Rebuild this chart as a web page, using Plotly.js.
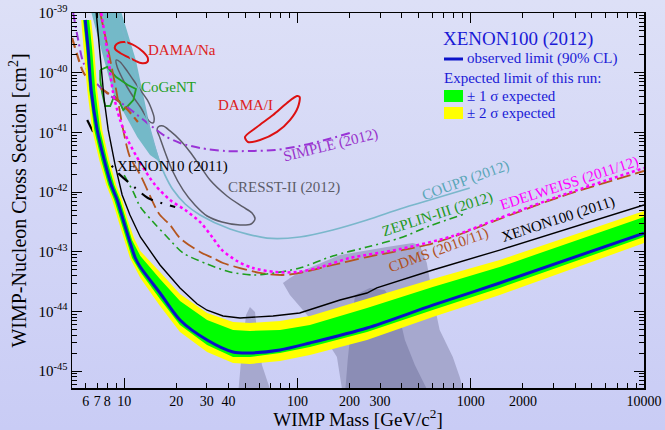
<!DOCTYPE html>
<html><head><meta charset="utf-8">
<script src="https://cdn.plot.ly/plotly-3.0.1.min.js"></script>
<style>
html,body{margin:0;padding:0;width:665px;height:430px;overflow:hidden;background:linear-gradient(#dde0f7,#c9ccf5);}
#chart{width:665px;height:430px;}
</style></head><body><div id="chart"></div>
<script>
// ---------- data (mass in GeV/c^2, cross-section in cm^2) ----------
const obsMass  = [5.96,6.20,6.45,6.99,7.67,8.42,9.11,9.87,10.7,11.6,12.4,16.1,21.0,30.1,42.5,53.2,79.3,118,252,604,1470,10000];
const obsSigma = [7.63e-40,2.40e-40,5.13e-41,1.10e-41,3.45e-42,1.31e-42,7.38e-43,3.41e-43,1.58e-43,7.87e-44,5.56e-44,2.04e-44,7.20e-45,3.33e-45,2.10e-45,2.02e-45,2.27e-45,2.97e-45,5.29e-45,1.28e-44,3.00e-44,2.06e-43];

const s2UpMass  = [6.45,6.72,6.99,7.47,8.20,8.99,9.74,10.5,11.4,12.4,16.1,21.0,30.1,42.5,53.2,79.3,118,252,604,1470,10000];
const s2UpSigma = [7.63e-40,2.40e-40,5.13e-41,1.10e-41,3.45e-42,1.31e-42,7.38e-43,3.41e-43,1.70e-43,1.03e-43,4.59e-44,1.96e-44,9.44e-45,6.67e-45,6.42e-45,6.93e-45,8.41e-45,1.62e-44,3.50e-44,7.29e-44,4.83e-43];
const s1UpMass  = [6.28,6.54,6.81,7.27,7.98,8.76,9.48,10.3,11.1,12.4,16.1,21.0,30.1,42.5,53.2,79.3,118,252,604,1470,10000];
const s1UpSigma = [7.63e-40,2.40e-40,5.13e-41,1.10e-41,3.45e-42,1.31e-42,7.38e-43,3.41e-43,1.58e-43,8.51e-44,3.50e-44,1.50e-44,7.20e-45,4.90e-45,4.72e-45,4.90e-45,5.94e-45,1.14e-44,2.57e-44,5.56e-44,3.83e-43];
const s1LoMass  = [5.80,6.04,6.28,6.72,7.37,8.09,8.76,9.48,10.3,11.1,12.4,16.1,21.0,30.1,42.5,53.2,79.3,118,252,604,1470,10000];
const s1LoSigma = [7.63e-40,2.40e-40,5.13e-41,1.10e-41,3.45e-42,1.31e-42,7.38e-43,3.41e-43,1.58e-43,7.87e-44,4.59e-44,1.62e-44,5.94e-45,2.75e-45,1.73e-45,1.73e-45,2.02e-45,2.54e-45,4.54e-45,1.06e-44,2.48e-44,1.77e-43];
const s2LoMass  = [5.65,5.88,6.12,6.54,7.18,7.88,8.53,9.23,10.0,10.8,12.4,16.1,21.0,30.1,42.5,53.2,79.3,118,252,604,1470,10000];
const s2LoSigma = [7.63e-40,2.40e-40,5.13e-41,1.10e-41,3.45e-42,1.31e-42,7.38e-43,3.41e-43,1.58e-43,7.87e-44,3.64e-44,1.24e-44,4.54e-45,2.10e-45,1.37e-45,1.32e-45,1.48e-45,1.87e-45,3.33e-45,8.09e-45,1.89e-44,1.40e-43];

const x11Mass  = [6.90,7.27,7.67,8.09,8.87,9.74,10.8,12.4,16.1,21.0,26.3,30.1,37.2,46.6,72.3,103,176,252,287,604,1470,10000];
const x11Sigma = [1.00e-39,1.63e-40,3.49e-41,1.10e-41,2.84e-42,8.94e-43,4.13e-43,1.77e-43,6.01e-44,2.48e-44,1.35e-44,1.05e-44,8.41e-45,7.80e-45,8.41e-45,9.44e-45,1.56e-44,2.04e-44,2.48e-44,4.96e-44,1.07e-43,6.08e-43];

const x10Mass  = [6.12,6.99,7.98,9.23,11.6,13.7,15.7,19.7];
const x10Sigma = [1.61e-41,7.46e-42,3.45e-42,2.09e-42,1.17e-42,7.96e-43,6.83e-43,5.63e-43];

const cdmsMass  = [7.27,8.09,8.99,9.87,10.8,12.4,15.1,16.1,18.4,21.0,27.4,32.6,37.2,46.6,60.8,82.5,103,160,252,355,558,788,1470,3258,10000];
const cdmsSigma = [1.00e-39,2.40e-40,5.13e-41,1.10e-41,3.87e-42,1.93e-42,5.63e-43,4.13e-43,2.81e-43,1.70e-43,9.92e-44,7.87e-44,6.49e-44,5.35e-44,4.42e-44,4.09e-44,4.42e-44,6.01e-44,8.18e-44,9.92e-44,1.30e-43,1.77e-43,3.54e-43,8.28e-43,2.26e-42];
const cdmsLowMass  = [5.01,5.36,5.80,6.37,7.57,9.11,10.5,12.0];
const cdmsLowSigma = [3.81e-40,1.98e-40,1.03e-40,7.26e-41,5.13e-41,3.49e-41,2.37e-41,1.49e-41];

const edwMass  = [7.37,7.98,8.64,9.48,10.5,12.4,15.1,18.4,22.5,27.4,32.2,36.7,44.8,55.4,74.2,99.4,130,201,390,788,1470,3258,10000];
const edwSigma = [1.00e-39,2.40e-40,4.57e-41,1.61e-41,7.46e-42,3.07e-42,1.31e-42,7.38e-43,5.01e-43,3.16e-43,1.77e-43,1.07e-43,7.02e-44,5.35e-44,4.59e-44,4.59e-44,5.35e-44,7.87e-44,1.11e-43,1.84e-43,3.68e-43,8.60e-43,2.53e-42];

const zepMass  = [10.0,11.3,12.4,14.7,17.7,21.9,30.1,40.8,55.4,66.7,103,160,252,390,580,924];
const zepSigma = [1.93e-42,1.00e-42,5.63e-43,3.16e-43,1.77e-43,9.55e-44,6.25e-44,4.59e-44,4.09e-44,4.25e-44,5.35e-44,8.51e-44,1.20e-43,1.70e-43,2.71e-43,4.30e-43];

const couppMass  = [9.23,11.4,13.6,14.5,15.7,17.2,19.2,22.5,27.4,40.8,66.7,103,160,252,390,508,987];
const couppSigma = [1.00e-39,1.11e-40,1.61e-41,8.37e-42,3.73e-42,1.93e-42,1.08e-42,6.32e-43,4.13e-43,2.41e-43,1.70e-43,1.77e-43,2.32e-43,3.41e-43,5.21e-43,6.57e-43,1.17e-42];

const simpleMass  = [5.08,5.43,5.80,6.54,7.77,10.4,14.1,17.2,21.0,27.4,38.2,53.2,74.2,103,144,201];
const simpleSigma = [1.00e-39,3.53e-40,1.51e-40,8.15e-41,4.75e-41,2.66e-41,1.33e-41,8.70e-42,6.65e-42,5.48e-42,4.88e-42,4.88e-42,5.07e-42,5.92e-42,7.46e-42,9.77e-42];

const cresstAMass  = [8.99,9.11,9.74,10.4,11.4,12.4,13.2,13.9,14.7,14.9,14.3,13.6,12.4,11.3,10.3,9.48,8.99];
const cresstASigma = [1.63e-40,1.25e-40,8.15e-41,5.76e-41,3.77e-41,2.66e-41,1.96e-41,1.55e-41,1.44e-41,1.74e-41,2.56e-41,3.49e-41,5.13e-41,7.55e-41,1.11e-40,1.51e-40,1.63e-40];
const cresstBMass  = [15.7,16.8,18.4,21.0,24.0,27.4,31.3,39.2,48.5,54.7,56.9,54.0,46.6,36.7,30.1,25.6,21.9,18.9,17.2,16.1,15.5,15.7];
const cresstBSigma = [1.23e-41,1.28e-41,1.06e-41,7.46e-42,4.70e-42,2.74e-42,1.59e-42,8.60e-43,5.63e-43,4.47e-43,3.54e-43,2.92e-43,2.81e-43,3.16e-43,3.98e-43,6.08e-43,1.08e-42,2.35e-42,4.70e-42,8.06e-42,1.10e-41,1.23e-41];

const damaNaMass  = [8.87,9.23,10.1,11.6,12.9,13.7,13.6,12.5,10.8,9.48,8.87,8.87];
const damaNaSigma = [2.80e-40,3.14e-40,3.27e-40,2.80e-40,2.22e-40,1.76e-40,1.51e-40,1.45e-40,1.76e-40,2.14e-40,2.49e-40,2.80e-40];
const damaIMass  = [49.8,58.4,72.3,87.0,99.4,103,100.7,90.5,76.2,60.8,51.8,49.8];
const damaISigma = [8.37e-42,1.23e-41,1.96e-41,3.11e-41,4.07e-41,3.92e-41,2.66e-41,1.61e-41,1.02e-41,7.46e-42,6.91e-42,8.37e-42];
const cogentMass  = [7.27,7.98,8.99,10.5,11.7,11.3,10.5,9.87,9.36,8.76,8.31,7.77,7.47,7.27,7.27];
const cogentSigma = [1.11e-40,1.25e-40,8.47e-41,6.22e-41,5.33e-41,3.49e-41,2.77e-41,2.37e-41,3.36e-41,4.07e-41,2.77e-41,2.77e-41,4.57e-41,7.55e-41,1.11e-40];

const tealMass  = [6.37,9.48,11.7,13.6,14.5,15.7,16.6,15.5,14.1,11.9,10.1,8.64,7.47,6.37];
const tealSigma = [1.2e-39,1.2e-39,1.60e-40,2.20e-41,8.37e-42,4.18e-42,2.53e-42,3.45e-42,4.18e-42,8.37e-42,1.96e-41,4.57e-41,2.14e-40,1.2e-39];

const grayAMass  = [45.4,47.9,50.5,53.2,56.9,59.2,62.4,71.3];
const grayASigma = [4e-46,2.27e-45,8.74e-45,1.19e-44,9.81e-45,3.33e-45,1.27e-45,4e-46];
const grayBMass  = [183,169,135,90.5,82.5,90.5,103,176,328,463,508,558,604,662,788,864,924];
const grayBSigma = [4e-46,1.73e-45,4.90e-45,1.89e-44,3.00e-44,3.64e-44,4.59e-44,8.84e-44,1.20e-43,1.40e-43,1.30e-43,6.49e-44,1.75e-44,4.90e-45,1.73e-45,8.0e-46,4e-46];
const grayCMass  = [188,195,206,215,262,319,380,417,476,580];
const grayCSigma = [4e-46,1.54e-45,7.20e-45,1.89e-44,2.48e-44,2.29e-44,1.06e-44,3.33e-45,1.27e-45,4e-46];

// ticks and tick labels
const xLabelVals = [6,7,8,10,20,30,40,100,200,300,1000,2000,10000];
const xLabelText = ['6','7','8','10','20','30','40','100','200','300','1000','2000','10000'];
const xMinorVals = [5,9,50,60,70,80,90,400,500,600,700,800,900,3000,4000,5000,6000,7000,8000,9000];
const xMajorVals = [10,100,1000,10000];
const yMajorVals = [1e-45,1e-44,1e-43,1e-42,1e-41,1e-40,1e-39];
const yMajorText = ['10<sup>-45</sup>','10<sup>-44</sup>','10<sup>-43</sup>','10<sup>-42</sup>','10<sup>-41</sup>','10<sup>-40</sup>','10<sup>-39</sup>'];
const yMinorMult = [2,3,4,5,6,7,8,9];

// ---------- build ----------
const yLo = -39 - 375/59.7;
const yMinorVals = [];
[1e-46].concat(yMajorVals).forEach(function(d){
  yMinorMult.forEach(function(k){
    const v=k*d, l=Math.log10(v);
    if (l>=yLo && l<=-39) yMinorVals.push(v);
  });
});

function ln(x,y,color,width,dash,shape){
  return {type:'scatter',mode:'lines',x:x,y:y,hoverinfo:'skip',showlegend:false,
    line:{color:color,width:width,dash:dash||'solid',shape:shape||'linear',smoothing:0.8}};
}
function poly(x,y,fill){
  return {type:'scatter',mode:'lines',x:x,y:y,fill:'toself',fillcolor:fill,hoverinfo:'skip',showlegend:false,
    line:{width:0,color:fill}};
}
function band(um,us,lm,ls){
  return [um.concat(lm.slice().reverse()), us.concat(ls.slice().reverse())];
}
const b2 = band(s2UpMass,s2UpSigma,s2LoMass,s2LoSigma);
const b1 = band(s1UpMass,s1UpSigma,s1LoMass,s1LoSigma);

const traces = [
  poly(grayBMass,grayBSigma,'#a6a8ce'),
  poly(grayAMass,grayASigma,'#a6a8ce'),
  poly(grayCMass,grayCSigma,'#8b8db5'),
  poly(tealMass,tealSigma,'#74b9c8'),
  ln(cresstAMass,cresstASigma,'#5c5c68',1.5,'solid','spline'),
  ln(cresstBMass,cresstBSigma,'#5c5c68',1.5,'solid','spline'),
  ln(damaNaMass,damaNaSigma,'#dd1111',2,'solid','spline'),
  ln(damaIMass,damaISigma,'#dd1111',2,'solid','spline'),
  ln(cogentMass,cogentSigma,'#22a022',1.8,'solid','linear'),
  ln(simpleMass,simpleSigma,'#9933d6',2,'9px,4px,2px,4px','spline'),
  ln(couppMass,couppSigma,'#7ab7cb',1.7,'solid','spline'),
  ln(cdmsLowMass,cdmsLowSigma,'#b4561f',2.2,'10px,5px','spline'),
  ln(cdmsMass,cdmsSigma,'#b4561f',1.8,'14px,5px','spline'),
  ln(zepMass,zepSigma,'#1e9e1e',1.6,'8px,4px,2px,4px','spline'),
  ln(edwMass,edwSigma,'#ff00ff',2.5,'dot','spline'),
  ln(x10Mass,x10Sigma,'#000000',2.2,'13px,8px,2px,8px','spline'),
  ln(x11Mass,x11Sigma,'#000000',1.4,'solid','linear'),
  poly(b2[0],b2[1],'#ffff00'),
  poly(b1[0],b1[1],'#00ff00'),
  ln(obsMass,obsSigma,'#0b12c9',3,'solid','spline'),
  {type:'scatter',mode:'markers',x:[10],y:[1e-42],xaxis:'x2',yaxis:'y2',marker:{opacity:0},hoverinfo:'skip',showlegend:false},
  {type:'scatter',mode:'markers',x:[10],y:[1e-42],xaxis:'x3',yaxis:'y2',marker:{opacity:0},hoverinfo:'skip',showlegend:false}
];

const serif = '"Liberation Serif","Times New Roman",serif';
const xr = [Math.log10(5),4], yr = [yLo,-39];
function P(px,py){ return {x:(px-72)/572, y:(388-py)/375}; }
function lab(text,px,py,color,angle,size){
  const p=P(px,py);
  return {text:text,xref:'paper',yref:'paper',x:p.x,y:p.y,showarrow:false,textangle:angle||0,
    font:{family:serif,size:size||15,color:color},xanchor:'center',yanchor:'middle'};
}
function labL(text,px,py,color,size){
  const p=P(px,py);
  return {text:text,xref:'paper',yref:'paper',x:p.x,y:p.y,showarrow:false,
    font:{family:serif,size:size||15,color:color},xanchor:'left',yanchor:'middle'};
}
const legBlue = '#1a1ad6';
const annotations = [
  lab('DAMA/Na',182,50,'#dd2222'),
  lab('CoGeNT',168,87,'#22a022'),
  lab('DAMA/I',245,105,'#dd2222'),
  lab('SIMPLE (2012)',330,145,'#9933cc',-14),
  lab('XENON10 (2011)',172,166,'#000000'),
  lab('CRESST-II (2012)',284,187,'#5c5c68'),
  lab('COUPP (2012)',466,181,'#5aa6b8',-20),
  lab('ZEPLIN-III (2012)',437,215,'#229922',-18),
  lab('EDELWEISS (2011/12)',569,183,'#ff00ff',-18),
  lab('CDMS (2010/11)',438,250,'#b05020',-20),
  lab('XENON100 (2011)',558,219,'#000000',-18),
  labL('XENON100 (2012)',441,39,legBlue,19),
  labL('observed limit (90% CL)',465,58,legBlue,15),
  labL('Expected limit of this run:',442,78,legBlue,15),
  labL('± 1 σ expected',465,96,legBlue,15),
  labL('± 2 σ expected',465,113,legBlue,15)
];
function rectP(px0,py0,px1,py1,color){
  const a=P(px0,py1), b=P(px1,py0);
  return {type:'rect',xref:'paper',yref:'paper',x0:a.x,y0:a.y,x1:b.x,y1:b.y,fillcolor:color,line:{width:0}};
}
const lp0=P(444,59), lp1=P(463,59);
const shapes = [
  {type:'line',xref:'paper',yref:'paper',x0:lp0.x,y0:lp0.y,x1:lp1.x,y1:lp1.y,line:{color:'#0b12c9',width:3}},
  rectP(444,90,463,102,'#00ff00'),
  rectP(444,107,463,119,'#ffff00')
];

const axBase = {type:'log',showgrid:false,zeroline:false,ticks:'inside',tickcolor:'#000',tickwidth:1,automargin:false};
const layout = {
  width:665,height:430,margin:{l:72,r:21,t:13,b:42},
  paper_bgcolor:'rgba(0,0,0,0)',plot_bgcolor:'rgba(0,0,0,0)',
  font:{family:serif,color:'#000'},showlegend:false,
  xaxis:Object.assign({},axBase,{range:xr,tickmode:'array',tickvals:xLabelVals,ticktext:xLabelText,ticklen:5,
    showline:true,linecolor:'#000',linewidth:1.5,mirror:'ticks',tickfont:{family:serif,size:14,color:'#000'},
    title:{text:'WIMP Mass [GeV/c<sup>2</sup>]',font:{family:serif,size:19,color:'#000'},standoff:2}}),
  yaxis:Object.assign({},axBase,{range:yr,tickmode:'array',tickvals:yMajorVals,ticktext:yMajorText,ticklen:10,
    showline:true,linecolor:'#000',linewidth:1.5,mirror:'ticks',tickfont:{family:serif,size:15,color:'#000'},
    title:{text:'WIMP-Nucleon Cross Section [cm<sup>2</sup>]',font:{family:serif,size:20,color:'#000'},standoff:6}}),
  xaxis2:Object.assign({},axBase,{range:xr,overlaying:'x',anchor:'y',tickmode:'array',tickvals:xMinorVals,ticklen:5,
    showticklabels:false,showline:false,mirror:'ticks'}),
  xaxis3:Object.assign({},axBase,{range:xr,overlaying:'x',anchor:'y',tickmode:'array',tickvals:xMajorVals,ticklen:10,
    showticklabels:false,showline:false,mirror:'ticks'}),
  yaxis2:Object.assign({},axBase,{range:yr,overlaying:'y',anchor:'x',side:'left',tickmode:'array',tickvals:yMinorVals,ticklen:5,
    showticklabels:false,showline:false,mirror:'ticks'}),
  annotations:annotations,shapes:shapes
};
Plotly.newPlot('chart',traces,layout,{staticPlot:true,displayModeBar:false});
</script></body></html>
